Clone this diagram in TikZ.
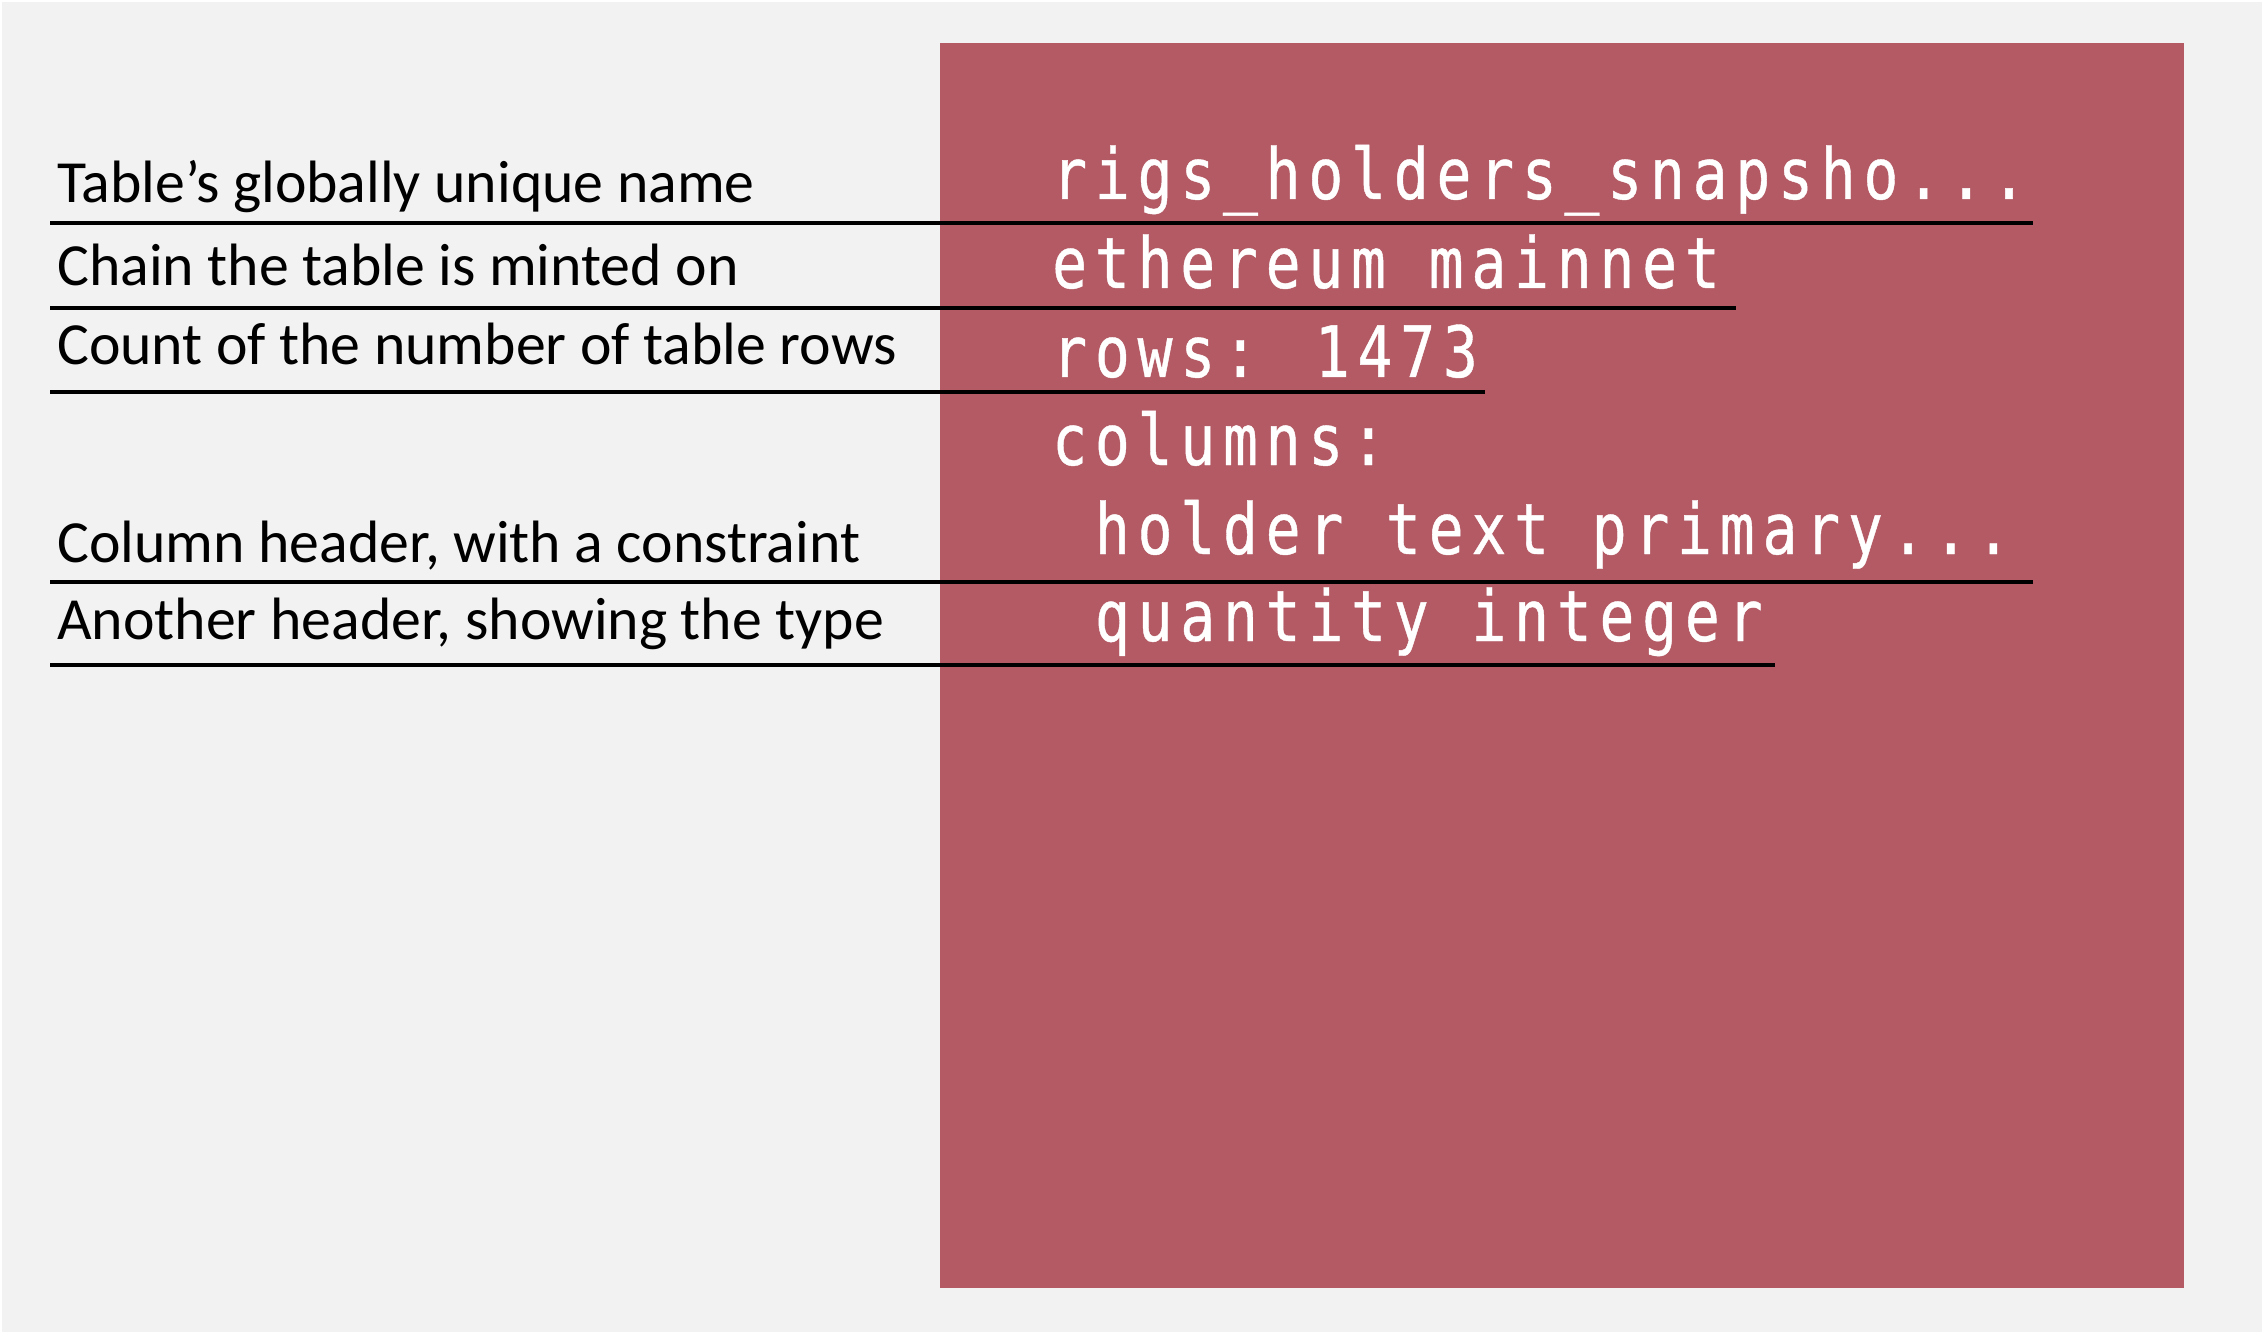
\documentclass[tikz,border=0pt]{standalone}
\usepackage{fontspec}
\setmainfont{Carlito}
\newfontfamily\codefont[FakeStretch=0.82,LetterSpace=11,FakeBold=0.6]{DejaVu Sans Mono}
\definecolor{pagegray}{HTML}{F2F2F2}
\definecolor{cardred}{HTML}{B35A64}
\begin{document}
\begin{tikzpicture}[x=1bp,y=-1bp,
  label/.style={anchor=base west,inner sep=0pt,font=\fontsize{60}{72}\selectfont,text=black},
  code/.style={anchor=base west,inner sep=0pt,font=\codefont\fontsize{71}{84}\selectfont,text=white},
  rule/.style={line width=3.2bp,black}]
  % canvas
  \fill[white] (0,0) rectangle (2264,1334);
  \useasboundingbox (0,0) rectangle (2264,1334);
  \fill[pagegray] (2,2) rectangle (2262,1332);
  % table card
  \fill[cardred] (940,43) rectangle (2184,1288);

  % card contents
  \node[code] (name)  at (1052,199) {rigs\_holders\_snapsho...};
  \node[code] (chain) at (1052,288) {ethereum mainnet};
  \node[code] (rows)  at (1052,377) {rows: 1473};
  \node[code] (cols)  at (1052,465) {columns:};
  \node[code] (colA)  at (1052,554) {\ holder text primary...};
  \node[code] (colB)  at (1052,641) {\ quantity integer};

  % annotations
  \node[label] (lname)  at (57,203) {Table’s globally unique name};
  \node[label] (lchain) at (57,286) {Chain the table is minted on};
  \node[label] (lrows)  at (57,365) {Count of the number of table rows};
  \node[label] (lcolA)  at (57,562) {Column header, with a constraint};
  \node[label] (lcolB)  at (57,639) {Another header, showing the type};

  % underlines joining each note to its entry
  \coordinate (u1a) at (50,223);  \coordinate (u1b) at (2033,223);
  \coordinate (u2a) at (50,308);  \coordinate (u2b) at (1736,308);
  \coordinate (u3a) at (50,392);  \coordinate (u3b) at (1485,392);
  \coordinate (u4a) at (50,582);  \coordinate (u4b) at (2033,582);
  \coordinate (u5a) at (50,665);  \coordinate (u5b) at (1775,665);
  \draw[rule] (u1a) -- (u1b);
  \draw[rule] (u2a) -- (u2b);
  \draw[rule] (u3a) -- (u3b);
  \draw[rule] (u4a) -- (u4b);
  \draw[rule] (u5a) -- (u5b);
\end{tikzpicture}
\end{document}
